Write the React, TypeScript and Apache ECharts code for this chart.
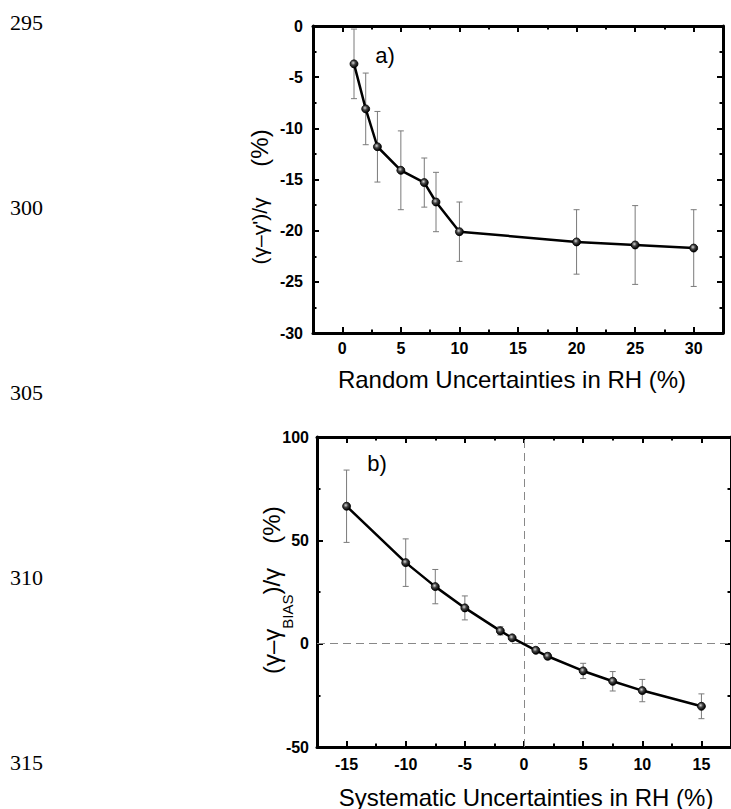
import React, { useEffect, useRef } from "react";
import * as echarts from "echarts";

// Panel a) random uncertainties
const aX = [1, 2, 3, 5, 7, 8, 10, 20, 25, 30];
const aY = [-3.7, -8.1, -11.8, -14.1, -15.3, -17.2, -20.1, -21.1, -21.4, -21.7];
const aErr = [3.4, 3.5, 3.45, 3.85, 2.4, 2.9, 2.9, 3.15, 3.85, 3.75];

// Panel b) systematic uncertainties
const bX = [-15, -10, -7.5, -5, -2, -1, 1, 2, 5, 7.5, 10, 15];
const bY = [66.5, 39.2, 27.6, 17.3, 6.2, 2.8, -3.2, -6.1, -13.2, -18.2, -22.7, -30.3];
const bErr = [17.5, 11.5, 8.3, 5.8, 2.0, 0.8, 0.8, 1.5, 3.7, 4.7, 5.4, 6.0];

// Tick values
const aXMajor = [0, 5, 10, 15, 20, 25, 30];
const aXMinor = [2.5, 7.5, 12.5, 17.5, 22.5, 27.5];
const aYMajor = [-30, -25, -20, -15, -10, -5, 0];
const aYMinor = [-27.5, -22.5, -17.5, -12.5, -7.5, -2.5];
const bXMajor = [-15, -10, -5, 0, 5, 10, 15];
const bXMinor = [-12.5, -7.5, -2.5, 2.5, 7.5, 12.5];
const bYMajor = [-50, 0, 50, 100];
const bYMinor = [-25, 25, 75];

const lineNumbers = ["295", "300", "305", "310", "315"];

const SANS = "'Liberation Sans', Arial, sans-serif";
const SERIF = "'Liberation Serif', 'Times New Roman', serif";

function measure(text: string, size: number) {
  const c = document.createElement("canvas").getContext("2d");
  if (!c) return text.length * size * 0.55;
  c.font = `${size}px ${SANS}`;
  return c.measureText(text).width;
}

function axis(
  gridIndex: number,
  position: string,
  min: number,
  max: number,
  values: number[],
  len: number,
  showLine: boolean,
  labelMargin: number | null
) {
  return {
    type: "value",
    gridIndex,
    position,
    min,
    max,
    offset: 0,
    axisLine: { show: showLine, onZero: false, lineStyle: { color: "#000", width: 3 } },
    axisTick: {
      show: true,
      inside: true,
      length: len,
      customValues: values,
      lineStyle: { color: "#000", width: 2 },
    },
    axisLabel:
      labelMargin !== null
        ? {
            show: true,
            customValues: values,
            fontFamily: SANS,
            fontWeight: "bold",
            fontSize: 16,
            color: "#000",
            margin: labelMargin,
          }
        : { show: false },
    splitLine: { show: false },
  };
}

const ballColor = {
  type: "radial",
  x: 0.4,
  y: 0.38,
  r: 0.6,
  colorStops: [
    { offset: 0, color: "#d8d8d8" },
    { offset: 0.45, color: "#444" },
    { offset: 1, color: "#000" },
  ],
};

function errorBars(xs: number[], ys: number[], es: number[], axisIndex: number) {
  return {
    type: "custom",
    xAxisIndex: axisIndex,
    yAxisIndex: axisIndex,
    z: 2,
    silent: true,
    data: xs.map((x, i) => [x, ys[i], es[i]]),
    encode: { x: 0, y: 1 },
    renderItem: (params: any, api: any) => {
      const x = api.value(0);
      const y = api.value(1);
      const e = api.value(2);
      const top = api.coord([x, y + e]);
      const bot = api.coord([x, y - e]);
      const hw = 3;
      const style = { stroke: "#7a7a7a", lineWidth: 1 };
      return {
        type: "group",
        children: [
          { type: "line", shape: { x1: top[0], y1: top[1], x2: bot[0], y2: bot[1] }, style },
          { type: "line", shape: { x1: top[0] - hw, y1: top[1], x2: top[0] + hw, y2: top[1] }, style },
          { type: "line", shape: { x1: bot[0] - hw, y1: bot[1], x2: bot[0] + hw, y2: bot[1] }, style },
        ],
      };
    },
  };
}

function rotatedPieces(pieces: { text: string; size: number; dx: number }[], cx: number, cy: number) {
  const widths = pieces.map((p) => measure(p.text, p.size));
  const total = widths.reduce((s, w) => s + w, 0);
  let y = cy + total / 2;
  return pieces.map((p, i) => {
    const el = {
      type: "text",
      x: cx + p.dx,
      y,
      rotation: Math.PI / 2,
      style: {
        text: p.text,
        fontSize: p.size,
        fontFamily: SANS,
        fill: "#000",
        align: "left",
        verticalAlign: "middle",
      },
    };
    y -= widths[i];
    return el;
  });
}

export default function App() {
  const ref = useRef<HTMLDivElement>(null);
  useEffect(() => {
    if (!ref.current) return;
    const chart = echarts.init(ref.current, null, { renderer: "svg" });
    const option: any = {
      animation: false,
      backgroundColor: "#fff",
      grid: [
        { left: 313, top: 26, width: 410, height: 307 },
        { left: 317, top: 437, width: 418, height: 310 },
      ],
      xAxis: [
        axis(0, "bottom", -2.5, 32.5, aXMajor, 6, true, 7),
        axis(0, "bottom", -2.5, 32.5, aXMinor, 3.5, false, null),
        axis(0, "top", -2.5, 32.5, aXMajor, 6, true, null),
        axis(0, "top", -2.5, 32.5, aXMinor, 3.5, false, null),
        axis(1, "bottom", -17.5, 17.5, bXMajor, 6, true, 9),
        axis(1, "bottom", -17.5, 17.5, bXMinor, 3.5, false, null),
        axis(1, "top", -17.5, 17.5, bXMajor, 6, true, null),
        axis(1, "top", -17.5, 17.5, bXMinor, 3.5, false, null),
      ],
      yAxis: [
        axis(0, "left", -30, 0, aYMajor, 6, true, 10),
        axis(0, "left", -30, 0, aYMinor, 3.5, false, null),
        axis(0, "right", -30, 0, aYMajor, 6, true, null),
        axis(0, "right", -30, 0, aYMinor, 3.5, false, null),
        axis(1, "left", -50, 100, bYMajor, 6, true, 8),
        axis(1, "left", -50, 100, bYMinor, 3.5, false, null),
        axis(1, "right", -50, 100, bYMajor, 6, true, null),
        axis(1, "right", -50, 100, bYMinor, 3.5, false, null),
      ],
      series: [
        errorBars(aX, aY, aErr, 0),
        {
          type: "line",
          xAxisIndex: 0,
          yAxisIndex: 0,
          z: 3,
          data: aX.map((x, i) => [x, aY[i]]),
          symbol: "circle",
          symbolSize: 8,
          lineStyle: { color: "#000", width: 2.5 },
          itemStyle: { color: ballColor, borderColor: "#000", borderWidth: 0.8 },
        },
        errorBars(bX, bY, bErr, 4),
        {
          type: "line",
          xAxisIndex: 4,
          yAxisIndex: 4,
          z: 3,
          data: bX.map((x, i) => [x, bY[i]]),
          symbol: "circle",
          symbolSize: 8,
          lineStyle: { color: "#000", width: 2.5 },
          itemStyle: { color: ballColor, borderColor: "#000", borderWidth: 0.8 },
          markLine: {
            silent: true,
            symbol: "none",
            label: { show: false },
            z: 1,
            lineStyle: { color: "#888", type: [8, 5], width: 1 },
            data: [{ xAxis: 0 }, { yAxis: 0 }],
          },
        },
      ],
      graphic: [
        ...lineNumbers.map((t, i) => ({
          type: "text",
          x: 10,
          y: 22 + i * 185,
          style: {
            text: t,
            fontSize: 22,
            fontFamily: SERIF,
            fill: "#000",
            align: "left",
            verticalAlign: "middle",
          },
        })),
        {
          type: "text",
          x: 385,
          y: 55,
          style: { text: "a)", fontSize: 22, fontFamily: SANS, fill: "#000", align: "center", verticalAlign: "middle" },
        },
        {
          type: "text",
          x: 377,
          y: 463,
          style: { text: "b)", fontSize: 22, fontFamily: SANS, fill: "#000", align: "center", verticalAlign: "middle" },
        },
        {
          type: "text",
          x: 512,
          y: 379,
          style: {
            text: "Random Uncertainties in RH (%)",
            fontSize: 24,
            fontFamily: SANS,
            fill: "#000",
            align: "center",
            verticalAlign: "middle",
          },
        },
        {
          type: "text",
          x: 526,
          y: 797,
          style: {
            text: "Systematic Uncertainties in RH (%)",
            fontSize: 24,
            fontFamily: SANS,
            fill: "#000",
            align: "center",
            verticalAlign: "middle",
          },
        },
        {
          type: "text",
          x: 259,
          y: 148,
          rotation: Math.PI / 2,
          style: { text: "(%)", fontSize: 24, fontFamily: SANS, fill: "#000", align: "center", verticalAlign: "middle" },
        },
        ...rotatedPieces([{ text: "(γ–γ')/γ", size: 21, dx: 0 }], 259, 231),
        {
          type: "text",
          x: 271,
          y: 525,
          rotation: Math.PI / 2,
          style: { text: "(%)", fontSize: 24, fontFamily: SANS, fill: "#000", align: "center", verticalAlign: "middle" },
        },
        ...rotatedPieces(
          [
            { text: "(γ–γ", size: 24, dx: 0 },
            { text: "BIAS", size: 15, dx: 16 },
            { text: ")/γ", size: 24, dx: 0 },
          ],
          271,
          621
        ),
      ],
    };
    chart.setOption(option);
    return () => chart.dispose();
  }, []);
  return (
    <div
      style={{ position: "absolute", left: 0, top: 0, width: 731, height: 809, overflow: "hidden", background: "#fff" }}
    >
      <div ref={ref} style={{ width: 731, height: 809 }} />
    </div>
  );
}
